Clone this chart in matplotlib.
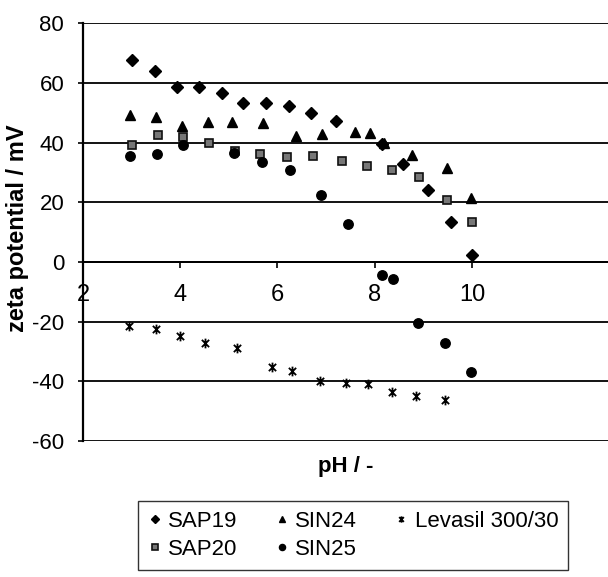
import matplotlib
matplotlib.use('Agg')
import matplotlib.pyplot as plt
from matplotlib.path import Path

plt.rcParams['font.family'] = ['Liberation Sans', 'DejaVu Sans']
plt.rcParams['axes.unicode_minus'] = False

# zeta potential vs pH
sap19_ph = [3.0, 3.48, 3.94, 4.39, 4.85, 5.29, 5.76, 6.24, 6.70, 7.20, 8.15, 8.58, 9.09, 9.57, 10.0]
sap19_zeta = [67.9, 64.2, 58.7, 58.6, 56.7, 53.5, 53.2, 52.4, 50.1, 47.3, 39.5, 32.9, 24.3, 13.3, 2.4]

sap20_ph = [3.01, 3.54, 4.06, 4.59, 5.12, 5.64, 6.20, 6.74, 7.32, 7.84, 8.36, 8.91, 9.48, 10.0]
sap20_zeta = [39.4, 42.7, 41.8, 39.9, 37.3, 36.4, 35.3, 35.4, 33.9, 32.3, 30.9, 28.6, 20.7, 13.5]

sin24_ph = [2.97, 3.50, 4.04, 4.57, 5.07, 5.70, 6.38, 6.91, 7.60, 7.91, 8.19, 8.77, 9.48, 9.98]
sin24_zeta = [49.2, 48.8, 45.7, 47.1, 46.8, 46.6, 42.4, 42.9, 43.5, 43.2, 39.9, 36.0, 31.5, 21.4]

sin25_ph = [2.97, 3.52, 4.05, 5.11, 5.68, 6.26, 6.90, 7.46, 8.15, 8.37, 8.89, 9.45, 9.98]
sin25_zeta = [35.7, 36.3, 39.2, 36.7, 33.7, 30.8, 22.6, 12.8, -4.4, -5.8, -20.4, -27.3, -36.9]

levasil_ph = [2.95, 3.50, 4.0, 4.52, 5.17, 5.88, 6.30, 6.88, 7.40, 7.87, 8.36, 8.85, 9.45]
levasil_zeta = [-21.5, -22.6, -24.8, -27.1, -28.8, -35.2, -36.5, -40.0, -40.5, -41.0, -43.6, -45.0, -46.1]

x_ticks = [2, 4, 6, 8, 10]
y_ticks = [-60, -40, -20, 0, 20, 40, 60, 80]

# excel style star marker: x with a vertical bar
star = Path([(0, -1), (0, 1), (-0.75, -0.75), (0.75, 0.75), (-0.75, 0.75), (0.75, -0.75)],
            [Path.MOVETO, Path.LINETO, Path.MOVETO, Path.LINETO, Path.MOVETO, Path.LINETO])

fig = plt.figure(figsize=(6.08, 5.77), dpi=100)
# plot area is cut off at the right edge in the scan
ax = fig.add_axes([83 / 608, 0.2357, 525 / 608, 0.7236])

ax.plot(sap19_ph, sap19_zeta, ls='none', marker='D', ms=5.8, color='black', label='SAP19')
ax.plot(sap20_ph, sap20_zeta, ls='none', marker='s', ms=6.2, mfc='#777777', mec='#111111',
        mew=1.2, label='SAP20')
ax.plot(sin24_ph, sin24_zeta, ls='none', marker='^', ms=7, color='black', label='SIN24')
ax.plot(sin25_ph, sin25_zeta, ls='none', marker='o', ms=6.8, color='black', label='SIN25')
ax.plot(levasil_ph, levasil_zeta, ls='none', marker=star, ms=7, mew=1.3, color='black',
        mfc='none', label='Levasil 300/30')

ax.set_xlim(2, 12.8)
ax.set_ylim(-60, 80)
ax.set_xticks(x_ticks)
ax.set_yticks(y_ticks)

ax.yaxis.grid(True, color='black', lw=1.3)
ax.set_axisbelow(True)
for s in ['top', 'right']:
    ax.spines[s].set_visible(False)
ax.spines['bottom'].set_position(('data', 0))
ax.spines['bottom'].set_linewidth(1.4)
ax.spines['left'].set_linewidth(1.6)

ax.tick_params(axis='x', direction='out', length=4, width=1.2, pad=12, labelsize=17)
ax.tick_params(axis='y', direction='out', length=3.5, width=1.2, pad=10, labelsize=16)

ax.set_ylabel('zeta potential / mV', fontsize=17, fontweight='bold')
ax.yaxis.set_label_coords(-0.102, 0.51)
ax.set_xlabel('pH / -', fontsize=16, fontweight='bold')
ax.xaxis.set_label_coords(0.5, -0.062)
ax.xaxis.label.set_va('center')

leg = fig.legend(loc='upper left', bbox_to_anchor=(138 / 608, 1 - 501 / 577), ncol=3,
                 fontsize=16, frameon=True, fancybox=False, edgecolor='black',
                 markerscale=0.65, handlelength=0.6, handletextpad=0.3,
                 columnspacing=1.7, borderpad=0.45, labelspacing=0.3,
                 borderaxespad=0)
leg.get_frame().set_linewidth(1.0)

fig.savefig('out.png', dpi=100)
